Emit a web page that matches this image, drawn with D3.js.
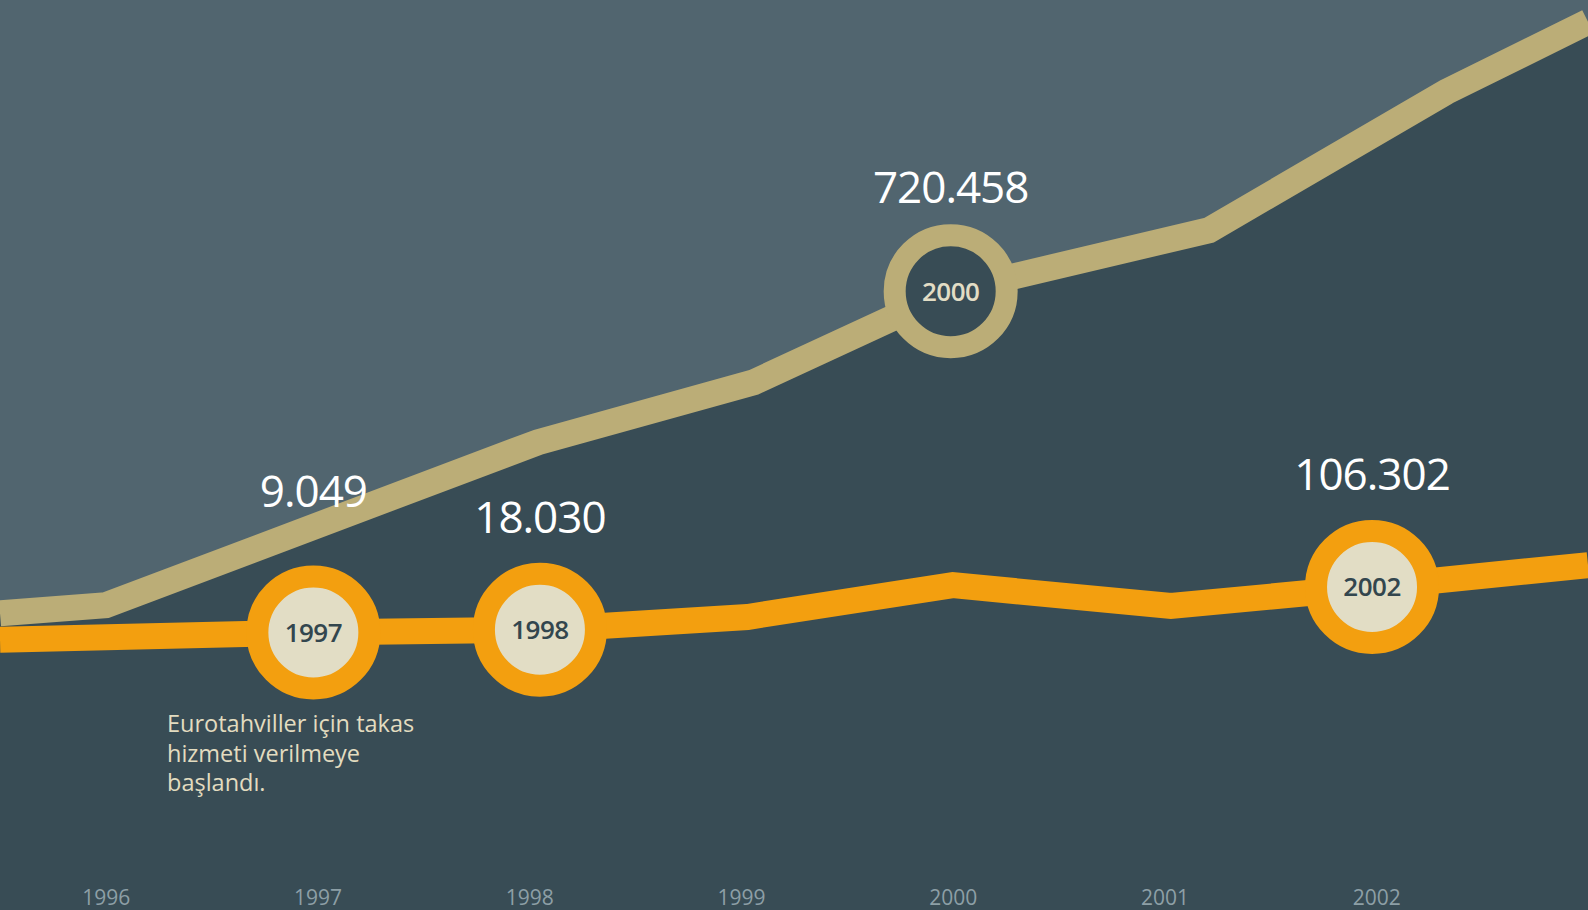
<!DOCTYPE html>
<html>
<head>
<meta charset="utf-8">
<script src="https://cdn.jsdelivr.net/npm/d3@7"></script>
<style>
  html, body { margin: 0; padding: 0; background: #384c55; overflow: hidden; }
  svg { display: block; }
</style>
</head>
<body>
<svg id="chart"></svg>
<script>
// upper series (beige), positions along the year axis and index values
const upperYears = [1995.5, 1996.0, 1998.04, 1999.06, 1999.99, 2001.21, 2002.33, 2003.0];
const upperValues = [32.6, 33.5, 51.4, 58.0, 68.0, 74.7, 89.9, 97.6];

// lower series (orange)
const lowerYears = [1995.5, 1996.98, 1998.05, 1999.03, 2000.0, 2001.03, 2001.98, 2003.0];
const lowerValues = [29.7, 30.5, 30.8, 32.2, 35.7, 33.4, 35.5, 37.9];

// highlighted points
const markerYears = [1996.98, 1998.05, 1999.99, 2001.98];
const markerSeries = ["lower", "lower", "upper", "lower"];
const markerText = ["1997", "1998", "2000", "2002"];
const markerLabels = ["9.049", "18.030", "720.458", "106.302"];

const tickYears = [1996, 1997, 1998, 1999, 2000, 2001, 2002];

const noteLines = ["Eurotahviller için takas", "hizmeti verilmeye", "başlandı."];

const width = 1588;
const height = 910;

const colors = {
  top: "#51656f",
  bottom: "#384c55",
  beige: "#bbad77",
  orange: "#f39f0f",
  cream: "#e2ddc5",
  ink: "#33464e",
  axis: "#8d9fa6",
};

// how far each value label sits above its circle centre
const labelLift = [125, 97, 88, 97];

const upper = upperYears.map((t, i) => ({ t, v: upperValues[i] }));
const lower = lowerYears.map((t, i) => ({ t, v: lowerValues[i] }));

const x = d3.scaleLinear().domain([1995.5, 2003]).range([0, width]);
const y = d3.scaleLinear().domain([0, 100]).range([height, 0]);

const svg = d3.select("#chart").attr("width", width).attr("height", height);

svg.append("rect").attr("width", width).attr("height", height).attr("fill", colors.bottom);

// lighter sky above the beige line
svg.append("path")
  .datum(upper)
  .attr("fill", colors.top)
  .attr("d", d3.area().x((d) => x(d.t)).y0(0).y1((d) => y(d.v)));

const line = d3.line().x((d) => x(d.t)).y((d) => y(d.v));

svg.append("path")
  .datum(upper)
  .attr("fill", "none")
  .attr("stroke", colors.beige)
  .attr("stroke-width", 26)
  .attr("stroke-linejoin", "miter")
  .attr("d", line);

svg.append("path")
  .datum(lower)
  .attr("fill", "none")
  .attr("stroke", colors.orange)
  .attr("stroke-width", 26)
  .attr("stroke-linejoin", "miter")
  .attr("d", line);

// value lookup on each series
function valueAt(series, t) {
  const s = series === "upper" ? upper : lower;
  const i = d3.bisector((d) => d.t).center(s, t);
  if (Math.abs(s[i].t - t) < 1e-6) return s[i].v;
  const j = s[i].t < t ? i : i - 1;
  const a = s[j], b = s[j + 1];
  return a.v + ((b.v - a.v) * (t - a.t)) / (b.t - a.t);
}

const markers = markerYears.map((t, i) => ({
  t,
  v: valueAt(markerSeries[i], t),
  series: markerSeries[i],
  text: markerText[i],
  label: markerLabels[i],
  lift: labelLift[i],
}));

const mg = svg.append("g")
  .selectAll("g")
  .data(markers)
  .join("g")
  .attr("transform", (d) => `translate(${x(d.t)},${y(d.v)})`);

mg.append("circle")
  .attr("r", 56)
  .attr("fill", (d) => (d.series === "upper" ? colors.bottom : colors.cream))
  .attr("stroke", (d) => (d.series === "upper" ? colors.beige : colors.orange))
  .attr("stroke-width", 22);

mg.append("text")
  .attr("text-anchor", "middle")
  .attr("dy", "0.36em")
  .style("font-family", "'Open Sans', sans-serif")
  .style("font-weight", 600)
  .style("font-size", "26px")
  .style("letter-spacing", "-0.5px")
  .attr("fill", (d) => (d.series === "upper" ? colors.cream : colors.ink))
  .text((d) => d.text);

mg.append("text")
  .attr("text-anchor", "middle")
  .attr("y", (d) => -d.lift)
  .style("font-family", "'Open Sans', sans-serif")
  .style("font-size", "44px")
  .style("letter-spacing", "-1px")
  .attr("fill", "#ffffff")
  .text((d) => d.label);

// note under the 1997 marker
svg.append("text")
  .attr("x", 167)
  .attr("y", 732)
  .style("font-family", "'Open Sans', sans-serif")
  .style("font-size", "23.5px")
  .attr("fill", "#e3dcc0")
  .selectAll("tspan")
  .data(noteLines)
  .join("tspan")
  .attr("x", 167)
  .attr("dy", (d, i) => (i === 0 ? 0 : 29.5))
  .text((d) => d);

// year axis
const axis = svg.append("g")
  .attr("transform", `translate(0,${height - 23})`)
  .call(d3.axisBottom(x).tickValues(tickYears).tickFormat(d3.format("d")).tickSize(0));
axis.select(".domain").remove();
axis.selectAll("text")
  .style("font-family", "'Open Sans', sans-serif")
  .style("font-size", "21px")
  .attr("fill", colors.axis);
</script>
</body>
</html>
